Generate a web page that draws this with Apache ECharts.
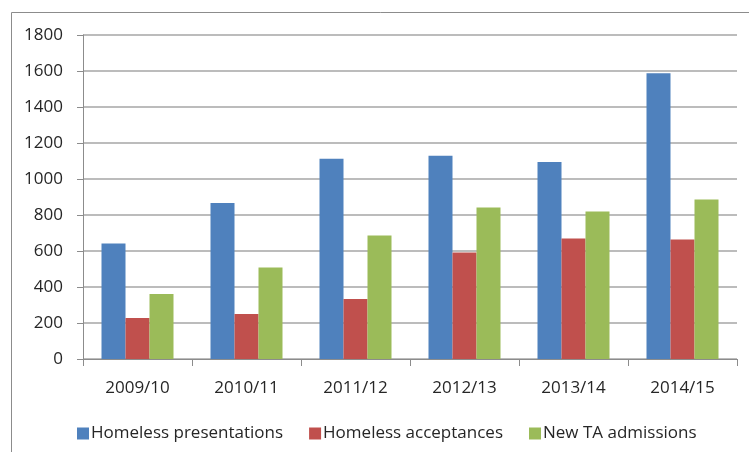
<!DOCTYPE html>
<html>
<head>
<meta charset="utf-8">
<script src="https://cdn.jsdelivr.net/npm/echarts@6/dist/echarts.min.js"></script>
<style>
html, body { margin: 0; padding: 0; background: #fff; }
#chart { width: 749px; height: 452px; }
</style>
</head>
<body>
<div id="chart"></div>
<script>
var years = ['2009/10', '2010/11', '2011/12', '2012/13', '2013/14', '2014/15'];
var presentations = [641, 866, 1112, 1129, 1094, 1587];
var acceptances = [228, 250, 334, 591, 669, 664];
var admissions = [361, 508, 686, 842, 819, 886];
var seriesNames = ['Homeless presentations', 'Homeless acceptances', 'New TA admissions'];

var font = "'Open Sans', 'Noto Sans', sans-serif";
var chart = echarts.init(document.getElementById('chart'));

function barSeries(name, data, color) {
  return {
    name: name,
    type: 'bar',
    data: data,
    barWidth: 24,
    barGap: '0%',
    itemStyle: { color: color },
    emphasis: { disabled: true }
  };
}

chart.setOption({
  animation: false,
  textStyle: { fontFamily: font },
  graphic: [{
    type: 'rect',
    shape: { x: 11.5, y: 12.5, width: 800, height: 500 },
    style: { fill: 'none', stroke: '#8c8c8c', lineWidth: 1 },
    silent: true
  }],
  grid: { left: 83, right: 12, top: 35, bottom: 93 },
  legend: {
    left: 72,
    top: 420,
    itemWidth: 12,
    itemHeight: 12,
    itemGap: 26,
    icon: 'rect',
    textStyle: { fontFamily: font, fontSize: 17, color: '#262626', padding: [0, 0, 0, -3] },
    data: seriesNames
  },
  xAxis: {
    type: 'category',
    data: years,
    axisLine: { lineStyle: { color: '#8c8c8c', width: 1 } },
    axisTick: { show: true, length: 7, lineStyle: { color: '#8c8c8c' } },
    axisLabel: { margin: 21, fontSize: 17, color: '#262626', fontFamily: font }
  },
  yAxis: {
    type: 'value',
    min: 0,
    max: 1800,
    interval: 200,
    axisLine: { show: true, lineStyle: { color: '#8c8c8c', width: 1 } },
    axisTick: { show: true, length: 6, lineStyle: { color: '#8c8c8c' } },
    axisLabel: {
      margin: 20, fontSize: 17, color: '#262626', fontFamily: font,
      formatter: function (v) { return String(v); }
    },
    splitLine: { lineStyle: { color: '#a6a6a6', width: 1.5 } }
  },
  series: [
    barSeries(seriesNames[0], presentations, '#4F81BD'),
    barSeries(seriesNames[1], acceptances, '#C0504D'),
    barSeries(seriesNames[2], admissions, '#9BBB59')
  ]
});
</script>
</body>
</html>
